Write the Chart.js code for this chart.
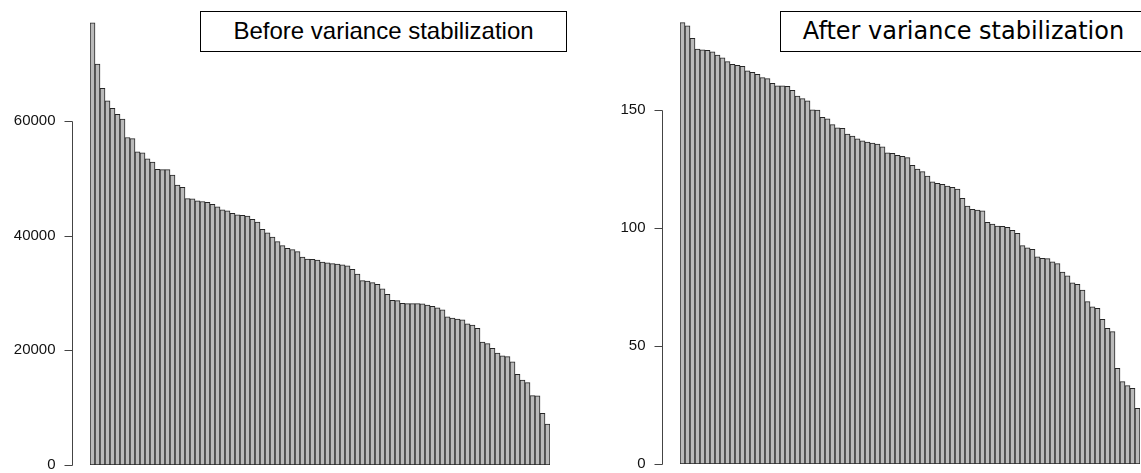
<!DOCTYPE html>
<html lang="en">
<head>
<meta charset="UTF-8">
<title>Before and after variance stabilization</title>
<style>
    body {
        margin: 0;
        background: #ffffff;
    }

    #wrap {
        position: relative;
        width: 1141px;
        height: 473px;
        overflow: hidden;
    }

    canvas {
        position: absolute;
        top: 0;
    }

    .legendBox {
        position: absolute;
        top: 11px;
        width: 367px;
        height: 41px;
        line-height: 38px;
        box-sizing: border-box;
        border: 1.5px solid #000;
        background: #fff;
        color: #000;
        text-align: center;
        font-size: 24px;
        white-space: nowrap;
    }
</style>
</head>
<body>

<div id="wrap">
    <canvas id="beforeChart" style="left:0px; width:570px; height:473px;" width="570" height="473"></canvas>
    <canvas id="afterChart" style="left:570px; width:571px; height:473px;" width="571" height="473"></canvas>
    <div class="legendBox" style="left:200px; font-family:'Liberation Sans', Arial, sans-serif;">Before variance stabilization</div>
    <div class="legendBox" style="left:780px; font-family:'DejaVu Sans', sans-serif;">After variance stabilization</div>
</div>

<script src="https://cdn.jsdelivr.net/npm/chart.js"></script>
<script>
    // values, sorted largest first
    const beforeValues = [
        77100, 69900, 65700, 63500, 62200, 61150, 60300, 57100, 56900, 54600,
        54450, 53400, 52800, 51550, 51500, 51500, 50550, 48800, 48400, 46450,
        46400, 46050, 45950, 45800, 45450, 45000, 44500, 44300, 43900, 43600,
        43550, 43400, 42850, 42350, 41100, 40500, 39750, 38950, 38250, 37800,
        37550, 37200, 36250, 35900, 35850, 35750, 35400, 35250, 35100, 35050,
        34900, 34750, 34100, 33300, 32150, 32050, 31800, 31500, 30700, 29750,
        28700, 28650, 28200, 28150, 28150, 28150, 28100, 27900, 27650, 27400,
        27050, 25850, 25600, 25450, 25300, 24600, 24400, 23850, 21450, 21150,
        20350, 19500, 19050, 18900, 18000, 15800, 14800, 14350, 12100, 12050,
        9000, 7150
    ];
    const afterValues = [
        187.0, 185.7, 180.4, 175.8, 175.5, 175.3, 174.6, 173.3, 172.1, 170.5,
        169.4, 168.9, 168.5, 166.6, 166.0, 165.1, 163.7, 163.3, 161.3, 160.2,
        160.2, 160.0, 158.3, 155.9, 154.8, 153.9, 150.1, 150.0, 146.9, 146.3,
        143.8, 142.4, 142.2, 139.8, 139.0, 137.8, 136.9, 136.4, 136.0, 135.6,
        134.4, 131.8, 131.6, 130.8, 130.4, 129.8, 126.6, 125.0, 123.9, 122.0,
        119.6, 118.9, 118.5, 117.8, 117.2, 116.5, 112.6, 109.3, 107.9, 107.6,
        107.3, 102.4, 101.7, 100.8, 100.7, 100.3, 99.0, 97.7, 92.5, 91.6,
        91.0, 87.8, 87.2, 87.0, 85.7, 84.9, 81.3, 79.7, 76.8, 76.1,
        73.7, 68.8, 66.6, 66.0, 61.3, 57.5, 56.1, 40.5, 34.9, 33.2,
        32.1, 23.6
    ];
    const beforeTicks = [0, 20000, 40000, 60000];
    const afterTicks = [0, 50, 100, 150];

    // R style y axis: line only from first to last tick, drawn left of the bars
    const rAxis = {
        id: 'rAxis',
        afterDraw(chart) {
            const o = chart.options.plugins.rAxis;
            const ctx = chart.ctx;
            const y = chart.scales.y;
            const x = o.axisX + 0.5;
            ctx.save();
            ctx.strokeStyle = '#444';
            ctx.lineWidth = 1;
            ctx.beginPath();
            ctx.moveTo(x, Math.round(y.getPixelForValue(o.ticks[o.ticks.length - 1])) + 0.5);
            ctx.lineTo(x, Math.round(y.getPixelForValue(o.ticks[0])) + 0.5);
            o.ticks.forEach(t => {
                const py = Math.round(y.getPixelForValue(t)) + 0.5;
                ctx.moveTo(x - 8, py);
                ctx.lineTo(x, py);
            });
            ctx.stroke();
            ctx.fillStyle = '#111';
            ctx.font = o.font;
            ctx.textAlign = 'right';
            ctx.textBaseline = 'middle';
            o.ticks.forEach(t => {
                ctx.fillText(String(t), x - 17, y.getPixelForValue(t));
            });
            ctx.restore();
        }
    };

    function makeChart(id, values, ticks, yMax, padding, axisX, font) {
        return new Chart(document.getElementById(id), {
            type: 'bar',
            data: {
                labels: values.map((v, i) => String(i + 1)),
                datasets: [{
                    data: values,
                    backgroundColor: '#bababa',
                    borderColor: '#262626',
                    borderSkipped: false,
                    borderWidth: 1,
                    barPercentage: 1,
                    categoryPercentage: 1
                }]
            },
            options: {
                responsive: false,
                animation: false,
                layout: { padding: padding },
                plugins: {
                    legend: { display: false },
                    tooltip: { enabled: false },
                    rAxis: { ticks: ticks, axisX: axisX, font: font }
                },
                scales: {
                    x: { display: false },
                    y: { display: false, min: 0, max: yMax }
                }
            },
            plugins: [rAxis]
        });
    }

    // 20000 units = 114.7 px on the left, 50 units = 118 px on the right
    makeChart('beforeChart', beforeValues, beforeTicks, 80000,
        { left: 90, right: 20, top: 465 - 80000 * 114.7 / 20000, bottom: 8 },
        72, "15px 'Liberation Sans', Arial, sans-serif");
    makeChart('afterChart', afterValues, afterTicks, 195,
        { left: 110, right: 1, top: 464 - 195 * 118 / 50, bottom: 9 },
        92, "15px 'Liberation Sans', Arial, sans-serif");
</script>

</body>
</html>
